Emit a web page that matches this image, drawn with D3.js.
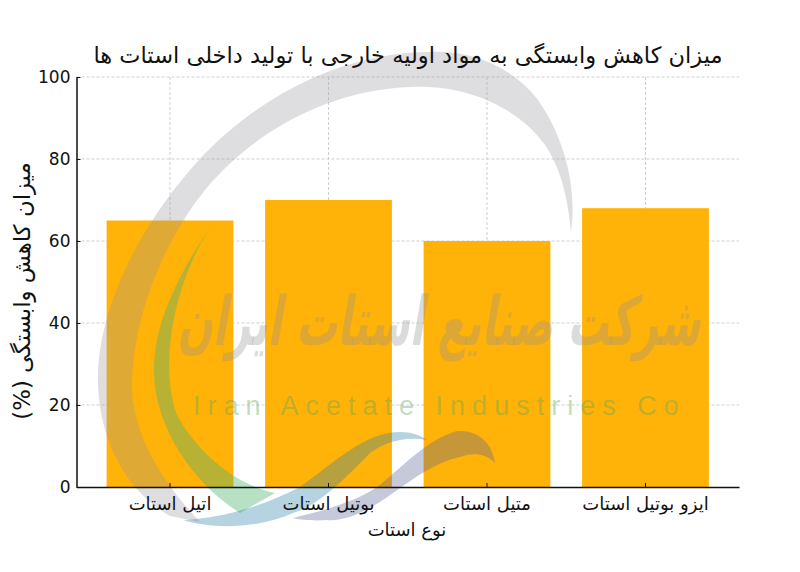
<!DOCTYPE html>
<html>
<head>
<meta charset="utf-8">
<script src="https://cdn.jsdelivr.net/npm/d3@7"></script>
<style>
  html, body { margin: 0; padding: 0; background: #fff; }
  svg { display: block; }
  text { font-family: "DejaVu Sans", sans-serif; fill: #111; }
</style>
</head>
<body>
<div id="chart"></div>
<script>
const categories = ["اتیل استات", "بوتیل استات", "متیل استات", "ایزو بوتیل استات"];
const values = [65, 70, 60, 68];
const yTicks = [0, 20, 40, 60, 80, 100];
const titleText = "میزان کاهش وابستگی به مواد اولیه خارجی با تولید داخلی استات ها";
const xTitle = "نوع استات";
const yTitle = "میزان کاهش وابستگی (%)";

const width = 800, height = 572;
const margin = {top: 77, right: 61, bottom: 85, left: 76.5};

const svg = d3.select("#chart").append("svg")
  .attr("width", width)
  .attr("height", height);

const x = d3.scaleBand()
  .domain(categories)
  .range([margin.left, width - margin.right])
  .paddingInner(0.2)
  .paddingOuter(0.19);

const y = d3.scaleLinear()
  .domain([0, 100])
  .range([height - margin.bottom, margin.top]);

const centre = d => x(d) + x.bandwidth() / 2;

// grid goes under the bars, bars are very slightly see through
svg.append("g").selectAll("line")
  .data(yTicks.slice(1))
  .join("line")
  .attr("x1", margin.left).attr("x2", width - margin.right)
  .attr("y1", d => y(d)).attr("y2", d => y(d))
  .attr("stroke", "#cfcfcf").attr("stroke-width", 1).attr("stroke-dasharray", "3,2");

svg.append("g").selectAll("line")
  .data(categories)
  .join("line")
  .attr("x1", centre).attr("x2", centre)
  .attr("y1", margin.top).attr("y2", height - margin.bottom)
  .attr("stroke", "#cfcfcf").attr("stroke-width", 1).attr("stroke-dasharray", "3,2");

svg.append("g").selectAll("rect")
  .data(values)
  .join("rect")
  .attr("x", (d, i) => x(categories[i]))
  .attr("y", d => y(d))
  .attr("width", x.bandwidth())
  .attr("height", d => y(0) - y(d))
  .attr("fill", "#ffaf00")
  .attr("fill-opacity", 0.97);

// logo watermark sits over everything in the plot
const wm = svg.append("g");

// big grey crescent
wm.append("path")
  .attr("d", "M571,232 C577,190 566,140 538,100 C512,66 470,50 430,52 C340,52 250,100 190,170 C130,240 96,320 98,385 C100,440 125,490 170,516 L200,522 C160,480 130,430 132,380 C135,310 165,240 205,190 C255,130 330,90 410,87 C470,84 520,110 545,145 C562,170 568,200 571,232 Z")
  .attr("fill", "rgb(150,150,155)").attr("fill-opacity", 0.31);

// green crescent
wm.append("path")
  .attr("d", "M211,226 C185,265 152,320 154,375 C156,430 195,485 240,513 L275,493 C235,485 195,450 177,415 C160,370 170,290 211,226 Z")
  .attr("fill", "rgb(80,180,115)").attr("fill-opacity", 0.41);

// blue waves at the bottom
wm.append("path")
  .attr("d", "M183,520 C225,518 265,505 300,487 C335,462 365,432 400,432 C412,432 420,435 427,440 C405,436 385,442 370,453 C345,478 320,505 293,513 C260,528 215,530 183,520 Z")
  .attr("fill", "rgb(43,129,166)").attr("fill-opacity", 0.35);
wm.append("path")
  .attr("d", "M293,518 C325,510 355,502 377,487 C400,470 425,440 457,431 C478,430 492,442 495,463 C485,452 470,453 460,457 C435,462 415,478 393,493 C370,510 345,522 327,520 C315,521 300,520 293,518 Z")
  .attr("fill", "rgb(90,100,150)").attr("fill-opacity", 0.35);

// calligraphy and company name
wm.append("text")
  .attr("direction", "rtl").attr("text-anchor", "start")
  .attr("transform", "translate(700,345) skewX(-10) scale(1,1.65)")
  .attr("font-size", 41).attr("font-weight", "bold")
  .style("fill", "rgb(150,145,145)").style("fill-opacity", 0.33)
  .text("شرکت صنایع استات ایران");

wm.append("text")
  .attr("x", 193).attr("y", 415)
  .attr("font-size", 27).attr("letter-spacing", 7)
  .style("font-family", '"Liberation Sans", sans-serif')
  .style("fill", "rgb(100,170,90)").style("fill-opacity", 0.42)
  .text("Iran Acetate Industries Co");

// axes, ticks point inward
const yAxis = svg.append("g")
  .attr("transform", `translate(${margin.left},0)`)
  .call(d3.axisLeft(y).tickValues(yTicks).tickSize(-4).tickPadding(6).tickSizeOuter(0));
yAxis.selectAll("text").attr("x", -6).attr("font-size", 17).style("fill", "#111");

const xAxis = svg.append("g")
  .attr("transform", `translate(0,${y(0)})`)
  .call(d3.axisBottom(x).tickSize(-4).tickSizeOuter(0));
xAxis.selectAll("text").attr("y", 10).attr("dy", "0.71em")
  .attr("font-size", 18).attr("direction", "rtl").style("fill", "#111");

svg.selectAll(".domain").attr("stroke", "#111").attr("stroke-width", 1.5);
svg.selectAll(".tick line").attr("stroke", "#111");
svg.selectAll(".tick text").style("font-family", '"DejaVu Sans", sans-serif');

svg.append("text")
  .attr("x", 408).attr("y", 63)
  .attr("text-anchor", "middle").attr("direction", "rtl")
  .attr("font-size", 22.5)
  .text(titleText);

svg.append("text")
  .attr("x", 407).attr("y", 536)
  .attr("text-anchor", "middle").attr("direction", "rtl")
  .attr("font-size", 18)
  .text(xTitle);

svg.append("text")
  .attr("transform", "translate(30,291) rotate(-90)")
  .attr("text-anchor", "middle").attr("direction", "rtl")
  .attr("font-size", 22.8)
  .text(yTitle);
</script>
</body>
</html>
